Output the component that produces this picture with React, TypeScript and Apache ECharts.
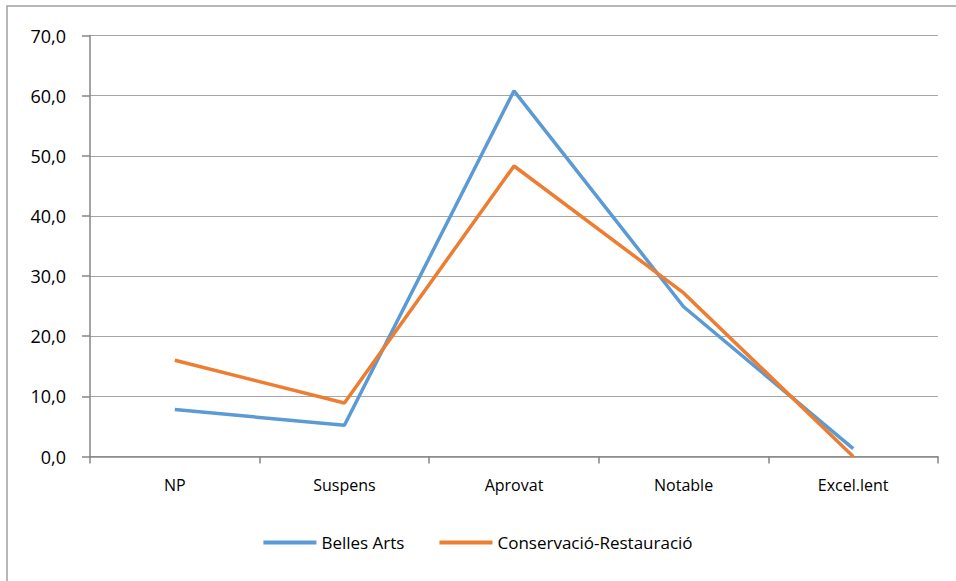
import React, { useEffect, useRef } from "react";
import * as echarts from "echarts";

const categories = ["NP", "Suspens", "Aprovat", "Notable", "Excel.lent"];
const bellesArts = [7.8, 5.2, 60.8, 24.9, 1.3];
const conservacio = [16.0, 8.9, 48.3, 27.2, 0.0];
const seriesNames = ["Belles Arts", "Conservació-Restauració"];

const FONT = "'Open Sans', 'DejaVu Sans', sans-serif";

export default function App() {
  const ref = useRef<HTMLDivElement>(null);
  useEffect(() => {
    if (!ref.current) return;
    const chart = echarts.init(ref.current, undefined, { renderer: "svg" });
    chart.setOption({
      animation: false,
      backgroundColor: "#ffffff",
      graphic: [
        {
          type: "rect",
          shape: { x: 7, y: 6, width: 1200, height: 1200 },
          style: { fill: "none", stroke: "#a0a0a0", lineWidth: 1.5 },
          silent: true,
        },
      ],
      grid: { left: 90, right: 18, top: 35.5, bottom: 124.5 },
      legend: {
        data: seriesNames,
        bottom: 25,
        left: "center",
        icon: "rect",
        itemWidth: 53,
        itemHeight: 4,
        itemGap: 35,
        textStyle: { fontFamily: FONT, fontSize: 17, color: "#000" },
      },
      xAxis: {
        type: "category",
        data: categories,
        boundaryGap: true,
        axisLine: { lineStyle: { color: "#868686", width: 1.5 } },
        axisTick: { show: true, length: 7, lineStyle: { color: "#868686", width: 1.5 } },
        axisLabel: { margin: 20, fontFamily: FONT, fontSize: 16, color: "#000" },
      },
      yAxis: {
        type: "value",
        min: 0,
        max: 70,
        interval: 10,
        axisLine: { show: true, lineStyle: { color: "#868686", width: 1.5 } },
        axisTick: { show: true, length: 8, lineStyle: { color: "#868686", width: 1.5 } },
        splitLine: { lineStyle: { color: "#a6a6a6", width: 1.2 } },
        axisLabel: {
          margin: 24,
          fontFamily: FONT,
          fontSize: 18,
          color: "#000",
          formatter: (v: number) => v.toFixed(1).replace(".", ","),
        },
      },
      series: [
        {
          name: seriesNames[0],
          type: "line",
          data: bellesArts,
          symbol: "none",
          lineStyle: { color: "#5B9BD5", width: 3.5 },
          itemStyle: { color: "#5B9BD5" },
        },
        {
          name: seriesNames[1],
          type: "line",
          data: conservacio,
          symbol: "none",
          lineStyle: { color: "#ED7D31", width: 3.5 },
          itemStyle: { color: "#ED7D31" },
        },
      ],
    });
    return () => chart.dispose();
  }, []);
  return (
    <div
      ref={ref}
      style={{ position: "absolute", left: 0, top: 0, width: 956, height: 581 }}
    />
  );
}
